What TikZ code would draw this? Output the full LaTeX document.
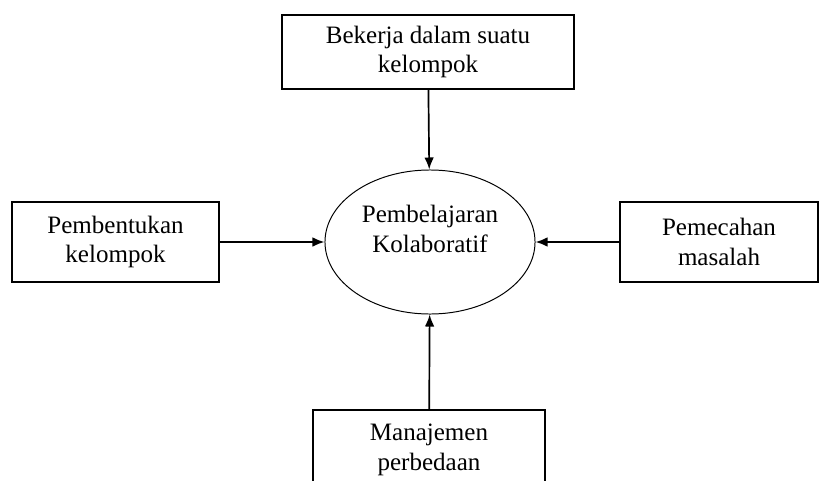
\documentclass[tikz,border=0pt]{standalone}
\usepackage{fontspec}
\setmainfont{Liberation Serif}
\usetikzlibrary{shapes.geometric, arrows.meta}
\begin{document}
\begin{tikzpicture}[x=0.025cm, y=-0.025cm,
        block/.style={rectangle, draw, line width=0.8pt, text centered, align=center, font=\fontsize{17.8}{21}\selectfont, inner sep=0pt},
        hub/.style={ellipse, draw, line width=0.7pt, minimum width=5.25cm, minimum height=3.6cm, inner sep=0pt},
        arrow/.style={draw, line width=1.2pt, -{Latex[length=0.3cm, width=0.24cm]}}
    ]
    \useasboundingbox (0,0) rectangle (821,480);
    \clip (0,0) rectangle (821,480);
    % Nodes
    \node[hub] (hub) at (430,242) {};
    \node[block, draw=none] (hubtext) at (430,229) {Pembelajaran\\Kolaboratif};
    \node[block, minimum width=7.3cm, minimum height=1.85cm] (work) at (428,52) {Bekerja dalam suatu\\kelompok};
    \node[block, minimum width=5.175cm, minimum height=2cm] (form) at (115.5,242) {Pembentukan\\kelompok};
    \node[block, minimum width=4.95cm, minimum height=2cm] (solve) at (719,242) {Pemecahan\\masalah};
    \node[block, minimum width=5.8cm, minimum height=2cm] (manage) at (429,450) {Manajemen\\perbedaan};
    
    % Arrows into the ellipse
    \draw[arrow] (work) -- (hub);
    \draw[arrow] (form) -- (hub);
    \draw[arrow] (solve) -- (hub);
    \draw[arrow] (manage) -- (hub);
    
\end{tikzpicture}
\end{document}
